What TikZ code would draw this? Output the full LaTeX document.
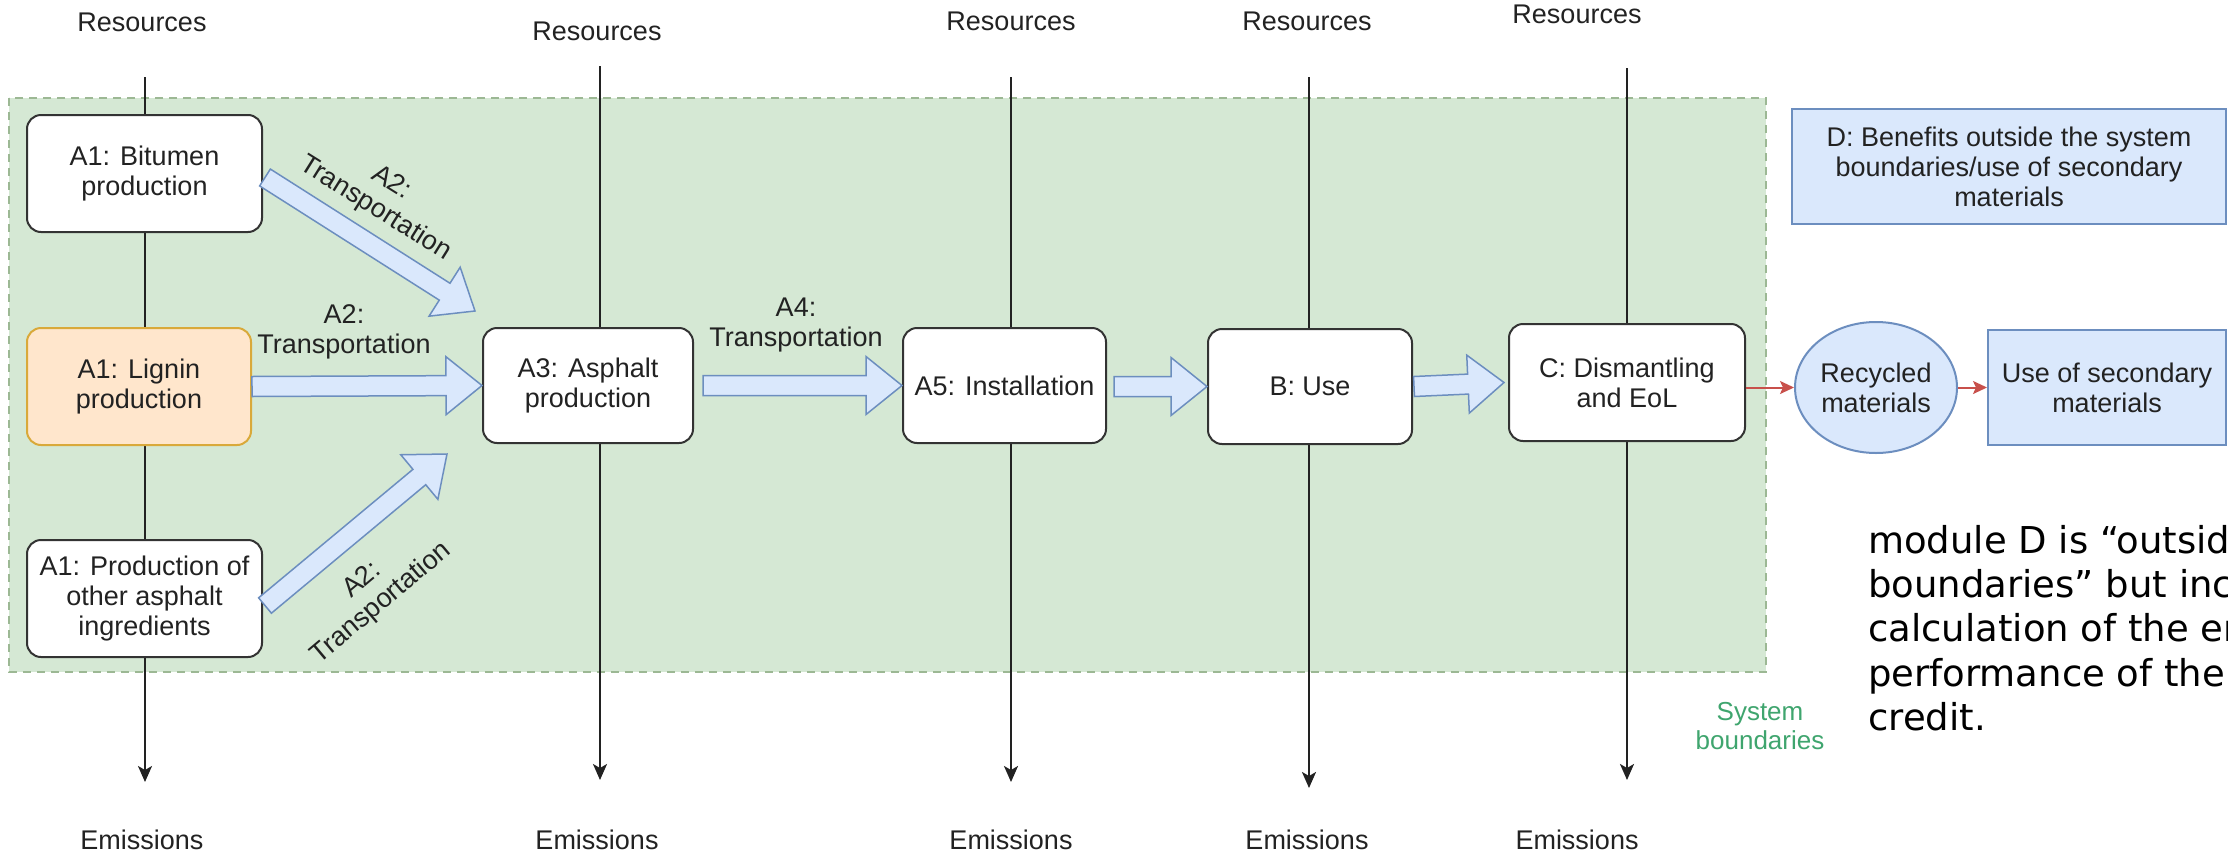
\documentclass[tikz,border=0pt]{standalone}
\usepackage{fontspec}
\setmainfont{Liberation Sans}
\newfontfamily\notefont{DejaVu Sans}
\usetikzlibrary{calc,arrows.meta,shapes.geometric}
\definecolor{grfill}{HTML}{D5E8D4}
\definecolor{grline}{HTML}{9CB894}
\definecolor{blfill}{HTML}{DAE8FC}
\definecolor{blline}{HTML}{6C8EBF}
\definecolor{orfill}{HTML}{FFE6CC}
\definecolor{orline}{HTML}{D9A93A}
\definecolor{redc}{HTML}{C8504B}
\definecolor{txt}{HTML}{222222}
\definecolor{boxline}{HTML}{333333}
\definecolor{sysgreen}{HTML}{3FA56E}
\newcommand{\blockarr}[2]{%
  \coordinate (bahead) at ($(#2)!36pt!(#1)$);
  \filldraw[barrow] ($(#1)!10pt!90:(#2)$) -- ($(bahead)!10pt!90:(#2)$) -- ($(bahead)!29pt!90:(#2)$) -- (#2) -- ($(bahead)!29pt!-90:(#2)$) -- ($(bahead)!10pt!-90:(#2)$) -- ($(#1)!10pt!-90:(#2)$) -- cycle;}
\begin{document}
\begin{tikzpicture}[x=1pt,y=-1pt,
  lbl/.style={text=txt,font=\fontsize{27}{30}\selectfont,align=center,inner sep=0pt},
  stage/.style={lbl,draw=boxline,fill=white,rounded corners=14pt,line width=2pt},
  bluebox/.style={lbl,draw=blline,fill=blfill,line width=2pt},
  vline/.style={draw=txt,line width=2pt,-{Stealth[length=16pt,width=14pt,inset=4pt]}},
  barrow/.style={fill=blfill,draw=blline,line width=1.5pt,line join=miter},
  redarr/.style={draw=redc,line width=2pt,-{Stealth[length=14pt,width=13pt,inset=3pt]}}
]
\useasboundingbox (0,0) rectangle (2228,857);
\fill[white] (0,0) rectangle (2228,857);
% system boundary area
\filldraw[fill=grfill,draw=grline,line width=2pt,dash pattern=on 8pt off 6pt] (9,98) rectangle (1766,672);

% resources / emissions labels
\node[lbl] (res1) at (142,22) {Resources};
\node[lbl] (res2) at (597,31) {Resources};
\node[lbl] (res3) at (1011,21) {Resources};
\node[lbl] (res4) at (1307,21) {Resources};
\node[lbl] (res5) at (1577,14) {Resources};
\node[lbl] (em1) at (142,840) {Emissions};
\node[lbl] (em2) at (597,840) {Emissions};
\node[lbl] (em3) at (1011,840) {Emissions};
\node[lbl] (em4) at (1307,840) {Emissions};
\node[lbl] (em5) at (1577,840) {Emissions};

% vertical flow lines
\coordinate (top1) at (145,77);  \coordinate (bot1) at (145,782);
\coordinate (top2) at (600,66);  \coordinate (bot2) at (600,780);
\coordinate (top3) at (1011,77); \coordinate (bot3) at (1011,782);
\coordinate (top4) at (1309,77); \coordinate (bot4) at (1309,788);
\coordinate (top5) at (1627,68); \coordinate (bot5) at (1627,780);
\draw[vline] (top1) -- (bot1);
\draw[vline] (top2) -- (bot2);
\draw[vline] (top3) -- (bot3);
\draw[vline] (top4) -- (bot4);
\draw[vline] (top5) -- (bot5);

% process boxes
\node[stage,minimum width=235pt,minimum height=117pt] (bit) at (144.5,173.5) {A1: Bitumen\\production};
\node[stage,draw=orline,fill=orfill,minimum width=224pt,minimum height=117pt] (lig) at (139,386.5) {A1: Lignin\\production};
\node[stage,minimum width=235pt,minimum height=117pt] (oth) at (144.5,598.5) {A1: Production of\\other asphalt\\ingredients};
\node[stage,minimum width=210pt,minimum height=115pt] (a3) at (588,385.5) {A3: Asphalt\\production};
\node[stage,minimum width=203pt,minimum height=115pt] (a5) at (1004.5,385.5) {A5: Installation};
\node[stage,minimum width=204pt,minimum height=115pt] (b) at (1310,386.5) {B: Use};
\node[stage,minimum width=236pt,minimum height=117pt] (c) at (1627,382.5) {C: Dismantling\\and EoL};
\node[lbl,ellipse,draw=blline,fill=blfill,line width=2pt,minimum width=162pt,minimum height=131pt] (rec) at (1876,387.5) {Recycled\\materials};
\node[bluebox,minimum width=238pt,minimum height=115pt] (use) at (2107,387.5) {Use of secondary\\materials};
\node[bluebox,minimum width=434pt,minimum height=115pt] (dbox) at (2009,166.5) {D: Benefits outside the system\\boundaries/use of secondary\\materials};

% block arrows
\coordinate (s1) at ($(bit.east)+(2,4)$);  \coordinate (t1) at (475,311);
\coordinate (s3) at ($(oth.east)+(2,7)$);  \coordinate (t3) at (447,454);
\coordinate (s4) at ($(a3.east)+(9,0)$);
\coordinate (s5) at ($(a5.east)+(7,1)$);
\coordinate (s6) at ($(b.east)+(1,0)$);    \coordinate (t6) at ($(c.west)+(-4,0)$);
\blockarr{s1}{t1}
\blockarr{lig.east}{a3.west}
\blockarr{s3}{t3}
\blockarr{s4}{a5.west}
\blockarr{s5}{b.west}
\blockarr{s6}{t6}

% red arrows
\draw[redarr] (c.east |- rec.west) -- (rec.west);
\draw[redarr] (rec.east) -- (use.west);

% transport labels
\node[lbl,rotate=-32] (l1) at (383,196) {A2:\\Transportation};
\node[lbl] (l2) at (344,332) {A2:\\Transportation};
\node[lbl,rotate=40] (l3) at (372,592) {A2:\\Transportation};
\node[lbl] (l4) at (796,325) {A4:\\Transportation};

% system boundaries label
\node[lbl,text=sysgreen,font=\fontsize{26}{29}\selectfont] (sys) at (1760,726) {System\\boundaries};

% side note
\begin{scope}
\clip (0,0) rectangle (2228,857);
\node[anchor=north west,align=left,inner sep=0pt,text=black,font=\notefont\fontsize{37}{44.25}\selectfont] (note) at (1868,525) {module D is “outsid\\boundaries” but inc\\calculation of the en\\performance of the\\credit.};
\end{scope}
\end{tikzpicture}
\end{document}
